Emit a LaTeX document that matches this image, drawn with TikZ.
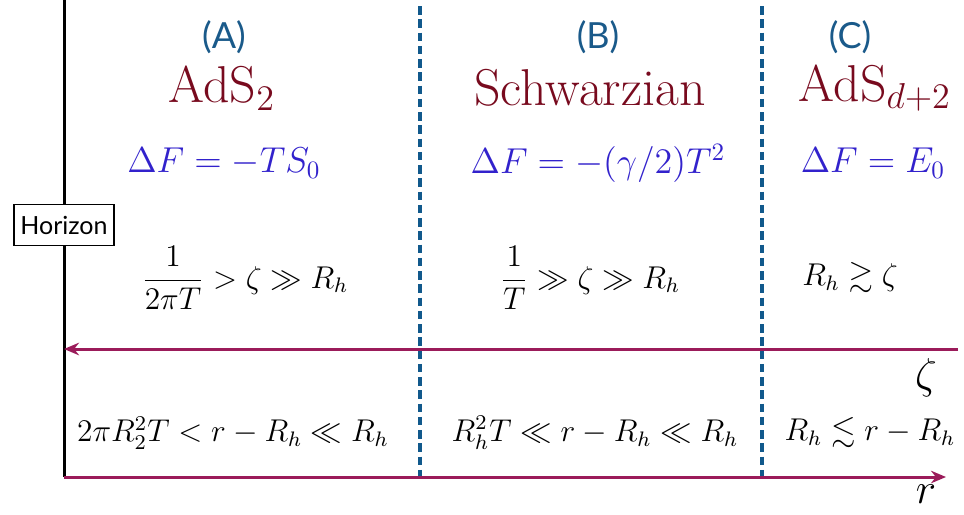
\documentclass[tikz,border=0pt]{standalone}
\usepackage{amsmath,amssymb}
\usepackage{fontspec}
\newfontfamily\labsans{Lato}
\usetikzlibrary{arrows.meta}
\definecolor{lblblue}{HTML}{1A5A8A}
\definecolor{maroon}{HTML}{780A1E}
\definecolor{fblue}{HTML}{3222CC}
\definecolor{arrowc}{HTML}{9B1B5A}
\definecolor{dashc}{HTML}{11598C}
\newcommand{\ineqtext}[1]{\scalebox{1.05}{#1}}
\begin{document}
\begin{tikzpicture}[x=0.4pt,y=-0.4pt,
  lbl/.style={font=\labsans\Large, text=lblblue, inner sep=0pt},
  ttl/.style={font=\huge, text=maroon, inner sep=0pt},
  fe/.style={font=\Large, text=fblue, inner sep=0pt},
  ineq/.style={font=\large, inner sep=0pt},
  divider/.style={dashc, line width=1.4pt, dash pattern=on 3.4pt off 1.9pt},
  axisarrow/.style={arrowc, line width=1.2pt, -{Stealth[length=6pt,width=5pt]}},
  hbox/.style={draw, line width=0.6pt, fill=white, font=\labsans\normalsize, inner xsep=2.5pt, inner ysep=4.5pt}]
\useasboundingbox (0,0) rectangle (964,514);
% coordinates
\coordinate (top) at (64,0);
\coordinate (origin) at (64,477);
\coordinate (rend) at (946,477);
\coordinate (zstart) at (958,349);
\coordinate (zend) at (64,349);
\coordinate (d1t) at (420,6);
\coordinate (d1b) at (420,477);
\coordinate (d2t) at (762,6);
\coordinate (d2b) at (762,477);
% dividers
\draw[divider] (d1t) -- (d1b);
\draw[divider] (d2t) -- (d2b);
% horizon line
\draw[line width=1.2pt] (top) -- (origin);
% arrows
\draw[axisarrow] (zstart) -- (zend);
\draw[axisarrow] (origin) -- (rend);
\node[font=\LARGE] (zlab) at (926,378) {$\zeta$};
\node[font=\LARGE] (rlab) at (926,494) {$r$};
% horizon box
\node[hbox] (hor) at (64,225) {Horizon};
% column A
\node[lbl] (la) at (224,37) {(A)};
\node[ttl] (ta) at (222,88) {AdS$_2$};
\node[fe] (fa) at (224,163) {$\Delta F = -TS_0$};
\node[ineq] (ia) at (245,278) {\ineqtext{$\dfrac{1}{2\pi T} > \zeta \gg R_h$}};
\node[ineq] (ba) at (233,433) {\ineqtext{$2\pi R_2^2 T < r - R_h \ll R_h$}};
% column B
\node[lbl] (lb) at (598,37) {(B)};
\node[ttl] (tb) at (590,88) {Schwarzian};
\node[fe] (fb) at (598,163) {$\Delta F = -(\gamma/2) T^2$};
\node[ineq] (ib) at (590,278) {\ineqtext{$\dfrac{1}{T} \gg \zeta \gg R_h$}};
\node[ineq] (bb) at (595,433) {\ineqtext{$R_h^2 T \ll r - R_h \ll R_h$}};
% column C
\node[lbl] (lc) at (850,37) {(C)};
\node[ttl] (tc) at (875,88) {AdS$_{d+2}$};
\node[fe] (fc) at (873,163) {$\Delta F = E_0$};
\node[ineq] (ic) at (850,278) {\ineqtext{$R_h \gtrsim \zeta$}};
\node[ineq] (bc) at (870,433) {\ineqtext{$R_h \lesssim r - R_h$}};
\end{tikzpicture}
\end{document}
